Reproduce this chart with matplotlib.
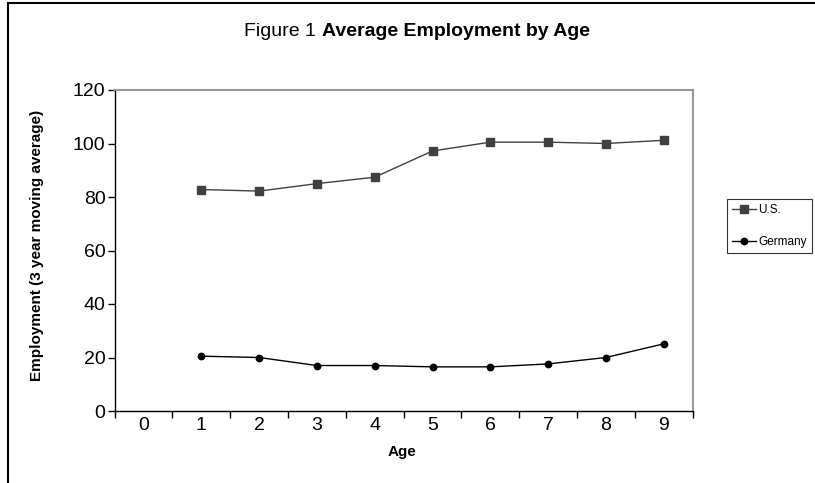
import numpy as np
import matplotlib.pyplot as plt
from matplotlib.patches import Rectangle

plt.rcParams['font.family'] = ['Liberation Sans', 'DejaVu Sans']

ages = ['0', '1', '2', '3', '4', '5', '6', '7', '8', '9']
data_ages = [1, 2, 3, 4, 5, 6, 7, 8, 9]
us = [82.8, 82.2, 85.0, 87.4, 97.2, 100.5, 100.5, 100.0, 101.2]
germany = [20.5, 20.0, 17.0, 17.0, 16.5, 16.5, 17.6, 20.0, 25.1]
y_ticks = [0, 20, 40, 60, 80, 100, 120]

W, H = 815, 483
fig = plt.figure(figsize=(W / 100, H / 100), dpi=100)
ax = fig.add_axes([114.6 / W, 1 - 411 / H, 578 / W, 321 / H])

ax.plot(data_ages, us, color='#404040', lw=1.0, marker='s', ms=5.2,
        mfc='#404040', mec='#404040', label='U.S.')
ax.plot(data_ages, germany, color='black', lw=1.0, marker='o', ms=4.6,
        mfc='black', mec='black', label='Germany')

ax.set_xlim(-0.5, len(ages) - 0.5)
ax.set_ylim(0, 120)
ax.set_yticks(y_ticks)
ax.set_xticks(np.arange(-0.5, len(ages), 1.0))
ax.set_xticklabels([])
ax.set_xticks(np.arange(len(ages)), minor=True)
ax.set_xticklabels(ages, minor=True)
ax.tick_params(axis='x', which='major', direction='out', length=5, width=1)
ax.tick_params(axis='x', which='minor', length=0, pad=4.5, labelsize=14)
ax.tick_params(axis='y', direction='out', length=5, width=1, labelsize=14, pad=1.5)

for s in ['top', 'right']:
    ax.spines[s].set_color('#999999')
    ax.spines[s].set_linewidth(1.5)
for s in ['left', 'bottom']:
    ax.spines[s].set_color('black')
    ax.spines[s].set_linewidth(1.0)

fig.text(402 / W, 1 - 452 / H, 'Age', fontsize=11, fontweight='bold',
         ha='center', va='center')
fig.text(37 / W, 1 - 245 / H, 'Employment (3 year moving average)', fontsize=11,
         fontweight='bold', rotation=90, ha='center', va='center')

# title: plain "Figure 1" followed by bold part, centred as one line
t1 = fig.text(0, 1 - 31.5 / H, 'Figure 1 ', fontsize=14, ha='left', va='center')
t2 = fig.text(0, 1 - 31.5 / H, 'Average Employment by Age', fontsize=14,
              fontweight='bold', ha='left', va='center')
r = fig.canvas.get_renderer()
w1 = t1.get_window_extent(r).width
w2 = t2.get_window_extent(r).width
x0 = 417 - (w1 + w2) / 2
t1.set_x(x0 / W)
t2.set_x((x0 + w1) / W)

leg = fig.legend(loc='upper left', bbox_to_anchor=(727 / W, 1 - 199 / H),
                 fontsize=8.5, frameon=True, fancybox=False, borderpad=0.42,
                 handlelength=2.0, handletextpad=0.25, labelspacing=1.7,
                 borderaxespad=0)
leg.get_frame().set_edgecolor('black')
leg.get_frame().set_linewidth(0.8)

fig.patches.append(Rectangle((8 / W, -0.05), 1.0, 1 - 3 / H + 0.05,
                             transform=fig.transFigure, fill=False,
                             edgecolor='black', lw=1.5))

fig.savefig('out.png', dpi=100)
